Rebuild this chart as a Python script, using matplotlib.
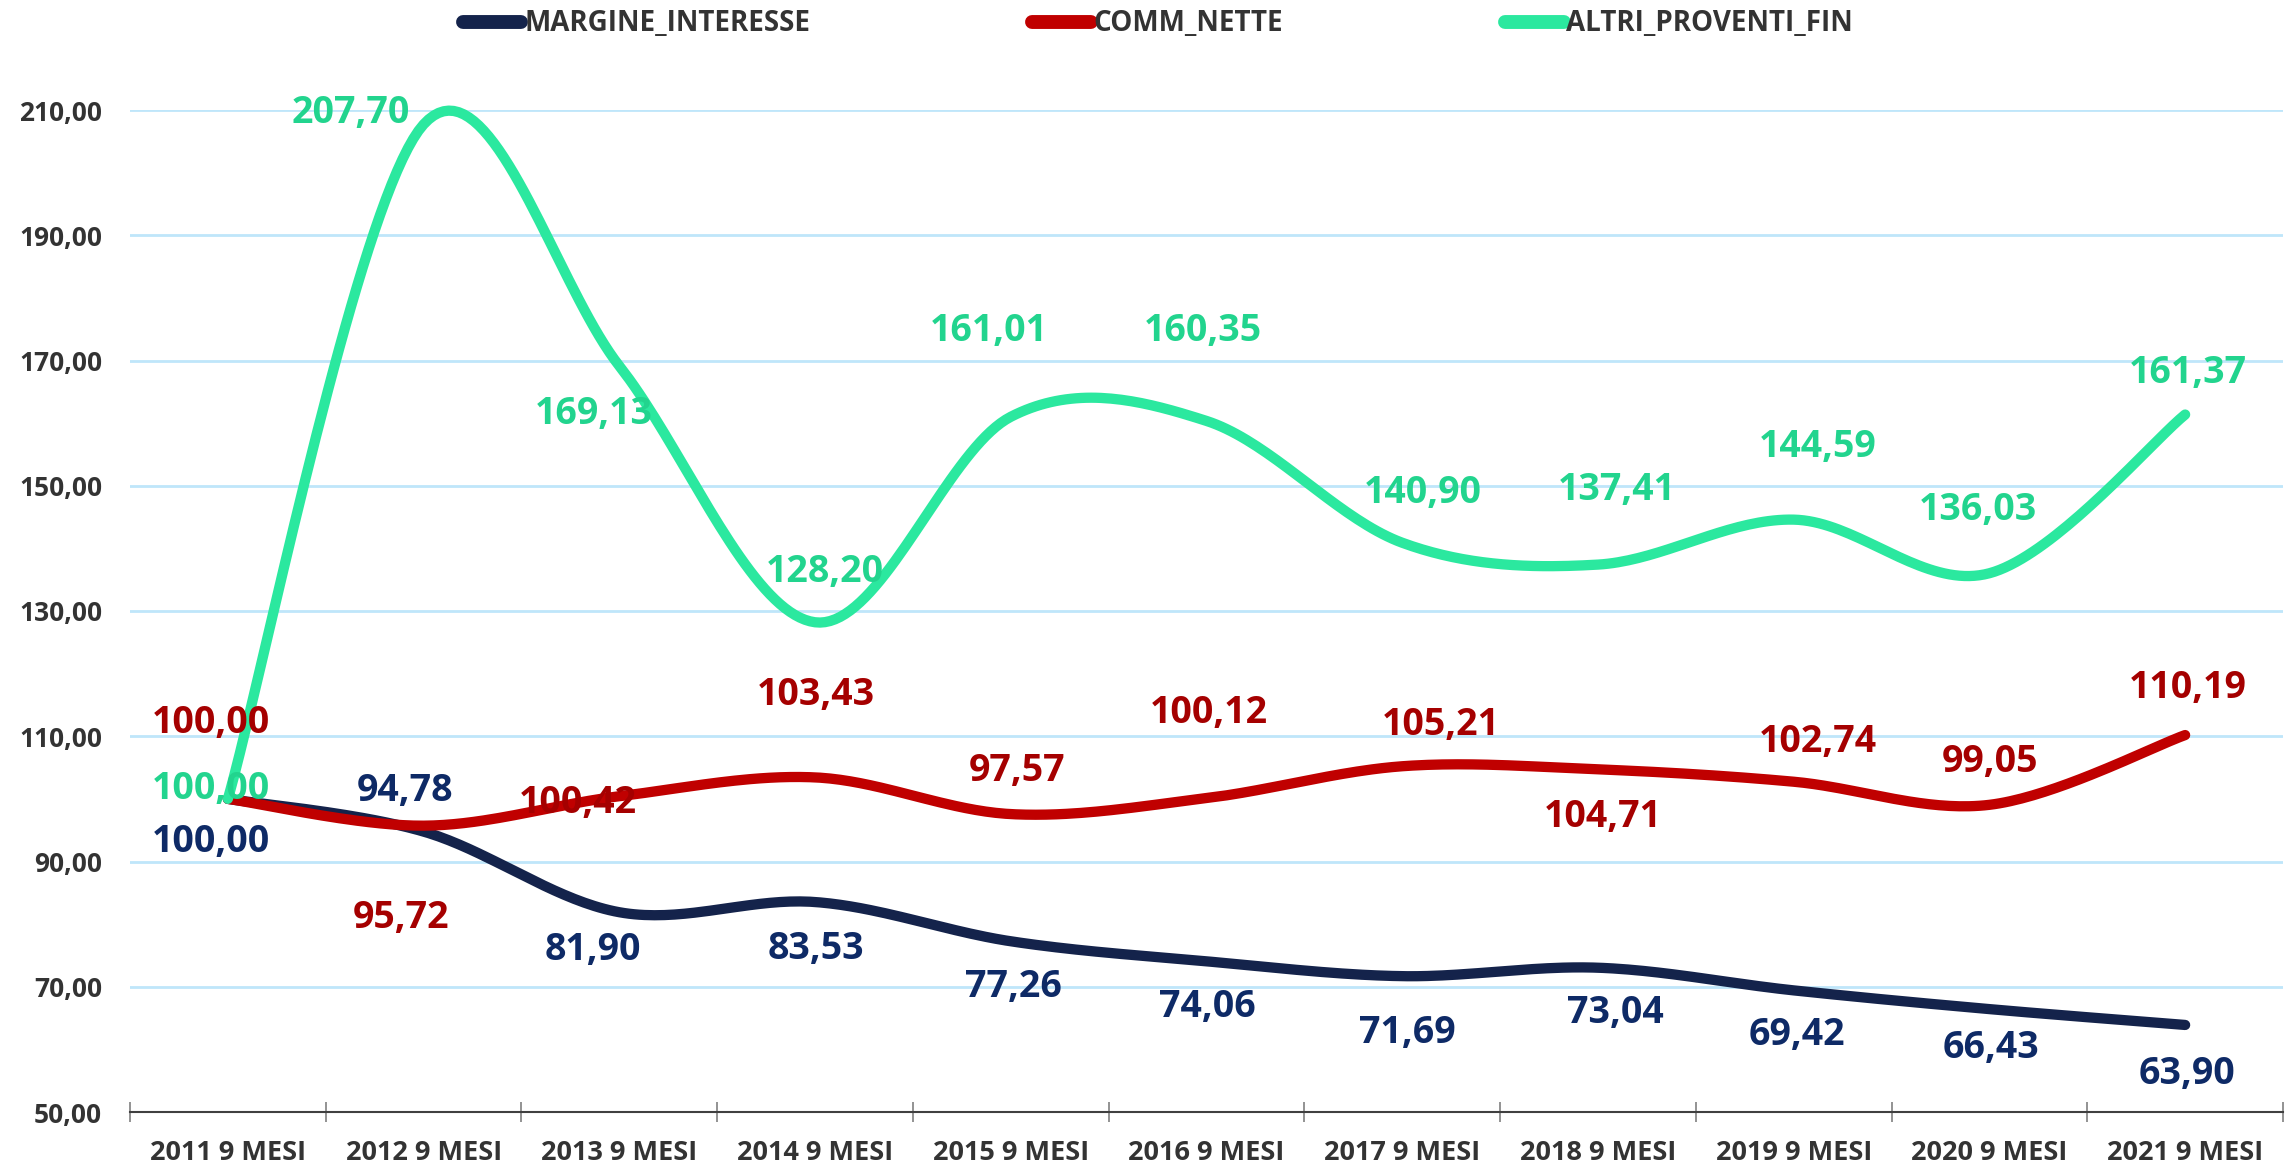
import numpy as np
import matplotlib
matplotlib.use("Agg")
import matplotlib.pyplot as plt
from matplotlib.ticker import FixedLocator, FuncFormatter

plt.rcParams['font.family'] = ['Open Sans', 'DejaVu Sans']
plt.rcParams['font.weight'] = 'bold'

# --- dati ---
anni = ["2011 9 MESI", "2012 9 MESI", "2013 9 MESI", "2014 9 MESI", "2015 9 MESI",
        "2016 9 MESI", "2017 9 MESI", "2018 9 MESI", "2019 9 MESI", "2020 9 MESI",
        "2021 9 MESI"]
margine_interesse = [100.00, 94.78, 81.90, 83.53, 77.26, 74.06, 71.69, 73.04, 69.42, 66.43, 63.90]
comm_nette = [100.00, 95.72, 100.42, 103.43, 97.57, 100.12, 105.21, 104.71, 102.74, 99.05, 110.19]
altri_proventi = [100.00, 207.70, 169.13, 128.20, 161.01, 160.35, 140.90, 137.41, 144.59, 136.03, 161.37]

# --- stile ---
col_line = {"MARGINE_INTERESSE": "#14234B", "COMM_NETTE": "#C00000", "ALTRI_PROVENTI_FIN": "#2BE89F"}
col_text = {"MARGINE_INTERESSE": "#0E2A66", "COMM_NETTE": "#A50000", "ALTRI_PROVENTI_FIN": "#22D48E"}

# spostamento etichette (pixel)
off_blu = [(-17, -43), (-19, 41), (-26, -38), (1, -47), (3, -46), (1, -46), (5, -57), (17, -45), (3, -45), (2, -39), (2, -49)]
off_rosso = [(-17, 76), (-23, -92), (-41, -7), (1, 82), (6, 43), (2, 85), (39, 41), (5, -48), (24, 40), (1, 43), (3, 47)]
off_verde = [(-17, 10), (-73, 11), (-26, -48), (10, 50), (-22, 86), (-4, 90), (21, 50), (19, 75), (24, 73), (-11, 63), (3, 42)]


def smooth(y, n=40):
    # spline tipo Excel (Catmull-Rom -> Bezier)
    y = np.asarray(y, float)
    x = np.arange(len(y), dtype=float)
    pts = np.column_stack([x, y])
    out = []
    for i in range(len(pts) - 1):
        p0 = pts[max(i - 1, 0)]
        p1 = pts[i]
        p2 = pts[i + 1]
        p3 = pts[min(i + 2, len(pts) - 1)]
        c1 = p1 + (p2 - p0) / 6
        c2 = p2 - (p3 - p1) / 6
        t = np.linspace(0, 1, n)[:, None]
        seg = ((1 - t) ** 3) * p1 + 3 * ((1 - t) ** 2) * t * c1 + 3 * (1 - t) * t ** 2 * c2 + t ** 3 * p2
        out.append(seg if i == 0 else seg[1:])
    out = np.vstack(out)
    return out[:, 0], out[:, 1]


fig = plt.figure(figsize=(22.85, 11.68), dpi=100)
ax = fig.add_axes([130 / 2285, 1 - 1112 / 1168, 2153 / 2285, 1002 / 1168])

serie = [("MARGINE_INTERESSE", margine_interesse, off_blu),
         ("COMM_NETTE", comm_nette, off_rosso),
         ("ALTRI_PROVENTI_FIN", altri_proventi, off_verde)]

for nome, valori, offs in serie:
    xs, ys = smooth(valori)
    ax.plot(xs, ys, color=col_line[nome], lw=7.4, solid_capstyle='round', label=nome, clip_on=False, zorder=3)
for nome, valori, offs in serie:
    for i, v in enumerate(valori):
        ax.annotate(f"{v:.2f}".replace(".", ","), (i, v), xytext=offs[i], textcoords='offset pixels',
                    ha='center', va='center', fontsize=27, fontweight='bold', color=col_text[nome], zorder=4)

ax.set_xlim(-0.5, len(anni) - 0.5)
ax.set_ylim(50, 210)
ax.set_yticks(np.arange(50, 211, 20))
ax.yaxis.set_major_formatter(FuncFormatter(lambda v, p: f"{v:.2f}".replace(".", ",")))
ax.grid(axis='y', color='#BFE6FA', lw=2)
ax.set_axisbelow(True)
for s in ['top', 'right', 'left']:
    ax.spines[s].set_visible(False)
ax.spines['bottom'].set_color('#404040')
ax.spines['bottom'].set_linewidth(1.5)
ax.spines['bottom'].set_zorder(2)

ax.set_xticks(range(len(anni)))
ax.set_xticklabels(anni)
ax.xaxis.set_minor_locator(FixedLocator(np.arange(-0.5, len(anni), 1.0)))
ax.tick_params(axis='x', which='major', length=0, pad=20, labelsize=19.5, labelcolor='#333333')
ax.tick_params(axis='x', which='minor', direction='inout', length=14, width=1.2, color='#808080')
ax.tick_params(axis='y', length=0, pad=20, labelsize=19, labelcolor='#333333')

fig.legend(loc='center', bbox_to_anchor=(1158 / 2285, 1 - 24 / 1168), ncol=3, frameon=False,
           handlelength=2.1, handletextpad=0.1, columnspacing=8.0,
           prop={'weight': 'bold', 'size': 20})
for t in fig.legends[0].get_texts():
    t.set_color('#333333')
for h in fig.legends[0].get_lines():
    h.set_linewidth(10)

fig.savefig("out.png", dpi=100)
